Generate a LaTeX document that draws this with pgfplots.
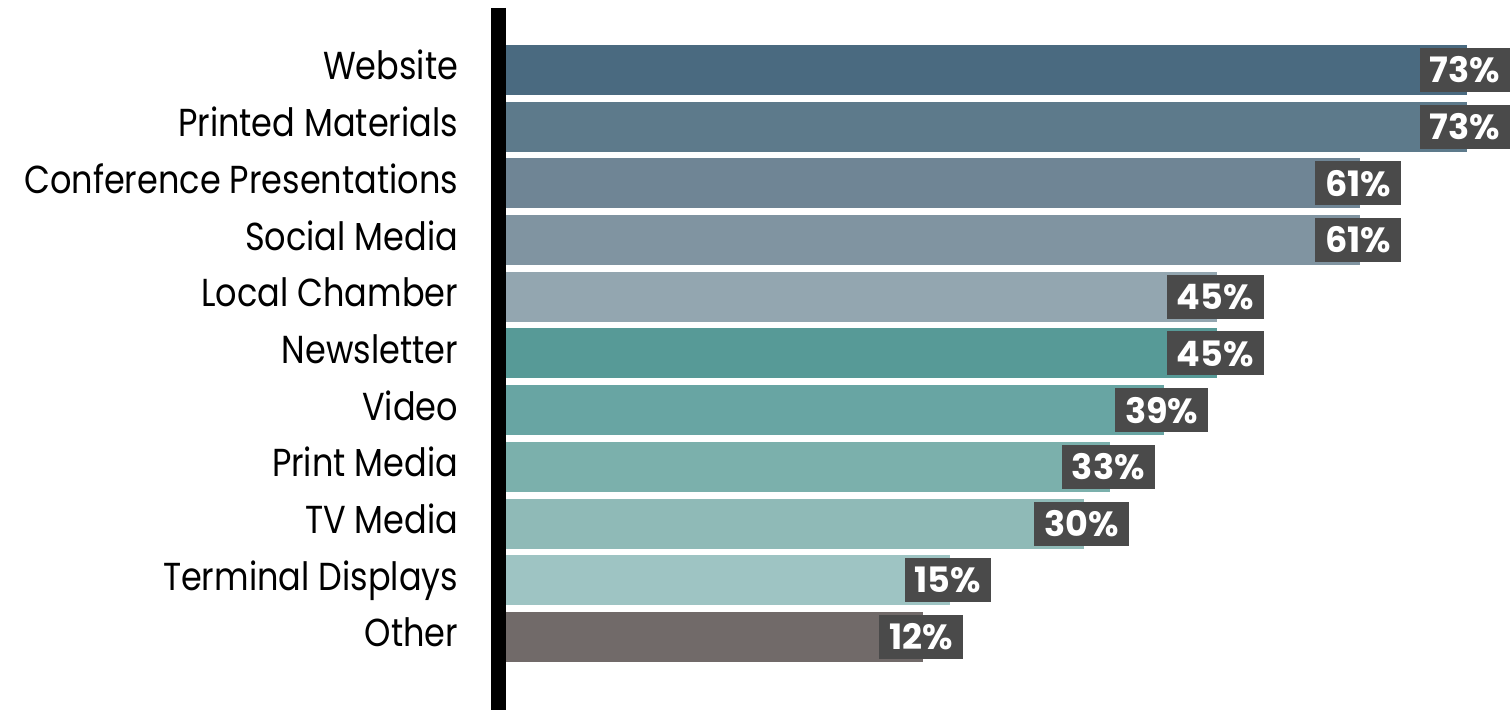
\documentclass[border=0pt]{standalone}
\usepackage{pgfplots}
\pgfplotsset{compat=1.18}
\usepackage{pgfplotstable}
\usepackage{fontspec}
\setmainfont{Poppins}
\newfontfamily\labfont[FakeStretch=0.86]{Poppins}
\definecolor{c0}{HTML}{4A6A80}
\definecolor{c1}{HTML}{5D7A8B}
\definecolor{c2}{HTML}{6F8595}
\definecolor{c3}{HTML}{8094A1}
\definecolor{c4}{HTML}{93A6B0}
\definecolor{c5}{HTML}{579A97}
\definecolor{c6}{HTML}{68A5A3}
\definecolor{c7}{HTML}{7BB0AC}
\definecolor{c8}{HTML}{8FBAB7}
\definecolor{c9}{HTML}{9EC4C3}
\definecolor{c10}{HTML}{716A69}
\definecolor{labgray}{HTML}{4A4A4A}
\pgfplotstableread{
i v
0 73
1 73
2 61
3 61
4 45
5 45
6 39
7 33
8 30
9 15
10 12
}\datatable
\begin{document}
\begin{tikzpicture}
\useasboundingbox (0,0) rectangle (755pt,355pt);
\begin{axis}[
  at={(249.25pt,0pt)}, anchor=south west,
  scale only axis,
  width=505.75pt, height=351pt,
  xmin=-0.84, xmax=112.58,
  ymin=-1.0935, ymax=11.2875,
  y dir=reverse,
  axis x line=none,
  axis y line*=left,
  y axis line style={line width=7.5pt, black},
  xtick=\empty,
  ytick={0,...,10},
  yticklabels={Website,Printed Materials,Conference Presentations,Social Media,Local Chamber,Newsletter,Video,Print Media,TV Media,Terminal Displays,Other},
  major tick length=0pt,
  yticklabel style={font=\labfont\fontsize{19.5pt}{21pt}\selectfont, inner sep=0pt, anchor=base east, xshift=-20pt, yshift=-5pt},
  /pgf/number format/assume math mode=true,
  xbar, bar width=25pt, bar shift=0pt,
  point meta=explicit,
  nodes near coords={\pgfmathprintnumber{\pgfplotspointmeta}\%},
  nodes near coords style={anchor=center, fill=labgray, text=white, font=\bfseries\fontsize{17.5pt}{18pt}\selectfont, minimum height=22pt, inner xsep=5pt, inner ysep=0pt, xshift=-1pt},
  clip=false,
]
\pgfplotsinvokeforeach{0,...,10}{
  \addplot[fill=c#1, draw=none, bar shift=0pt, restrict y to domain=#1:#1]
    table[x expr=\thisrow{v}+34.76, y=i, meta=v] {\datatable};
}
\end{axis}
\end{tikzpicture}
\end{document}
